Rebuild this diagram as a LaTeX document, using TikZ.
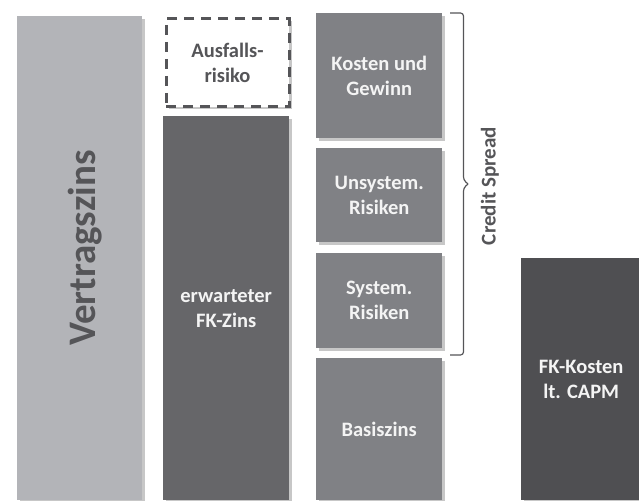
\documentclass[tikz,border=0pt]{standalone}
\usepackage{fontspec}
\setmainfont{Carlito}
\usetikzlibrary{shadows}
\definecolor{cVertrag}{HTML}{B3B4B8}
\definecolor{cErw}{HTML}{666669}
\definecolor{cMid}{HTML}{808185}
\definecolor{cCapm}{HTML}{4F4F52}
\definecolor{cTxt}{HTML}{555558}
\definecolor{cLight}{HTML}{F4F4F4}
\begin{document}
\begin{tikzpicture}[x=1pt,y=1pt,
  bar/.style={anchor=north west, inner sep=0pt, align=center, font=\bfseries\fontsize{20.5}{25}\selectfont,
    drop shadow={shadow xshift=2.5pt, shadow yshift=-2.5pt, opacity=0.22, fill=black}},
  darkbar/.style={bar, text=cLight},
]
\useasboundingbox (0,0) rectangle (639,-500);
% left column
\node[bar, fill=cVertrag, minimum width=125pt, minimum height=484pt] (vz) at (17,-16) {};
\node[rotate=90, text=cTxt, font=\bfseries\fontsize{39}{42}\selectfont] (vzt) at (85,-248) {Vertragszins};
% second column
\node[bar, draw=cTxt, dash pattern=on 10pt off 7pt, line width=3pt, fill=white, text=cTxt,
  minimum width=123pt, minimum height=88pt, drop shadow={opacity=0}] (ar) at (164.5,-17.5) {Ausfalls-\\risiko};
\node[darkbar, fill=cErw, minimum width=126pt, minimum height=384pt] (ez) at (163,-116) {erwarteter\\FK-Zins};
% third column
\node[darkbar, fill=cMid, minimum width=126pt, minimum height=125pt] (kg) at (316,-13) {Kosten und\\Gewinn};
\node[darkbar, fill=cMid, minimum width=126pt, minimum height=94pt] (ur) at (316,-148) {Unsystem.\\Risiken};
\node[darkbar, fill=cMid, minimum width=126pt, minimum height=95pt] (sr) at (316,-253) {System.\\Risiken};
\node[darkbar, fill=cMid, minimum width=126pt, minimum height=142pt] (bz) at (316,-358) {Basiszins};
% brace
\coordinate (bt) at (450,-13);
\coordinate (bb) at (450,-355);
\coordinate (tip) at (468,-184);
\draw[cTxt, line width=1.2pt, rounded corners=3pt] (bt) -- (463.5,-13) -- (463.5,-180) -- (tip);
\draw[cTxt, line width=1.2pt, rounded corners=3pt] (tip) -- (463.5,-188) -- (463.5,-355) -- (bb);
\node[rotate=90, font=\bfseries\fontsize{21}{24}\selectfont, text=cTxt] (cs) at (490,-186) {Credit Spread};
% right column
\node[darkbar, fill=cCapm, minimum width=120pt, minimum height=242pt] (capm) at (521,-258) {FK-Kosten\\lt. CAPM};
\end{tikzpicture}
\end{document}
